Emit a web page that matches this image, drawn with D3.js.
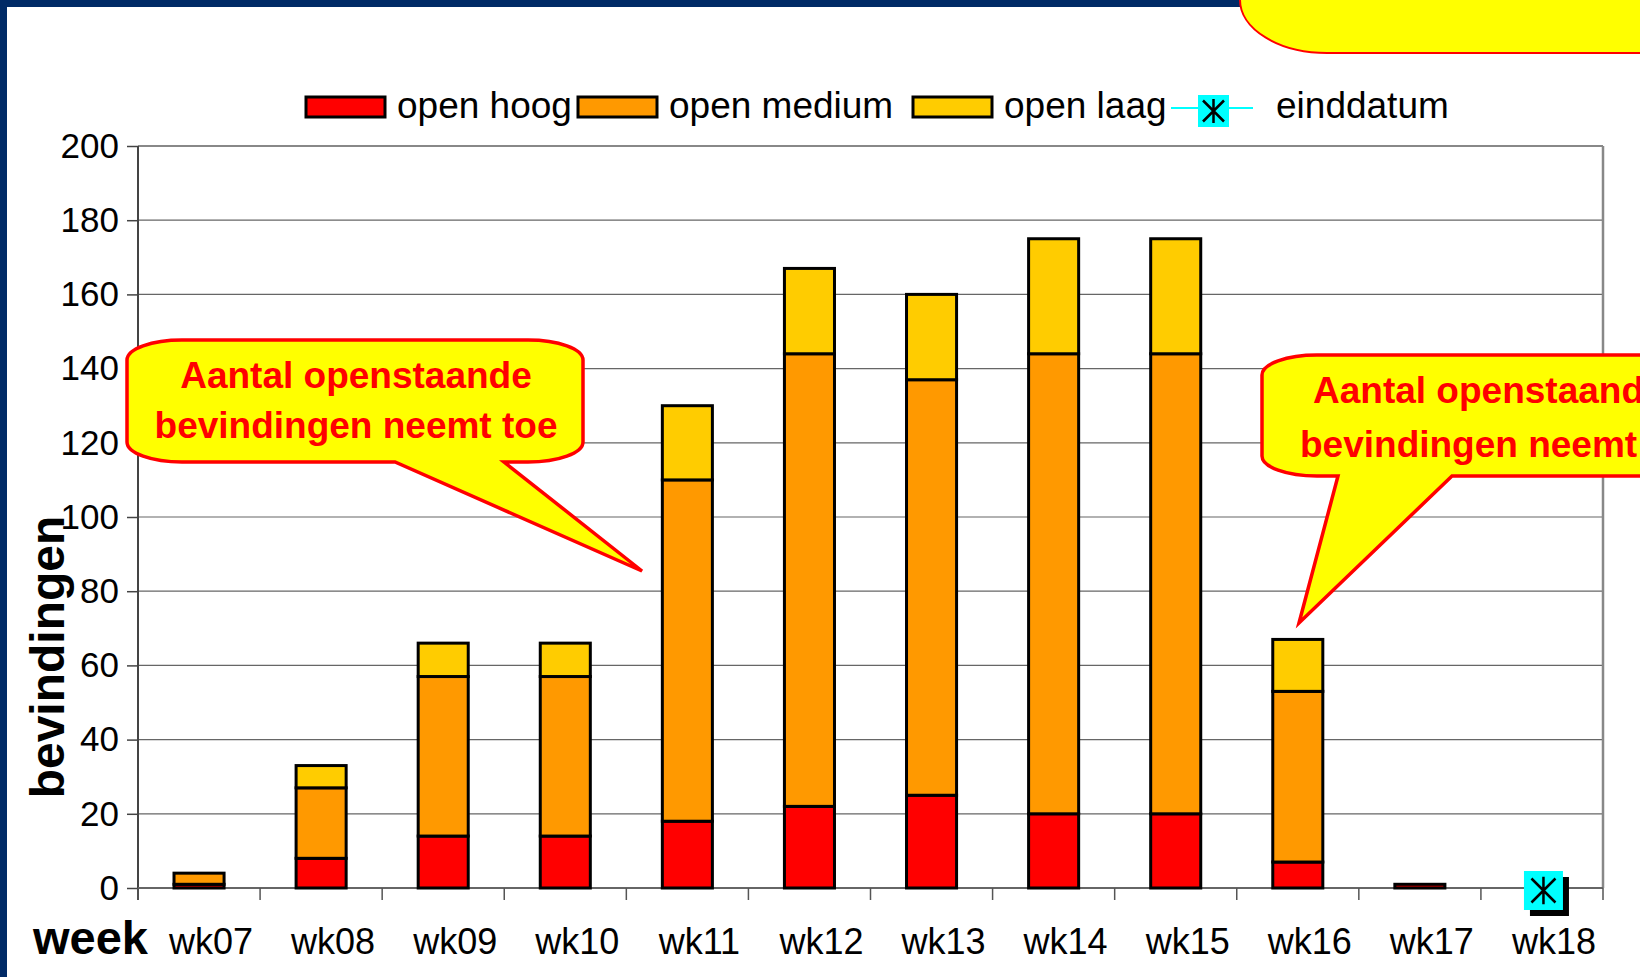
<!DOCTYPE html>
<html>
<head>
<meta charset="utf-8">
<script src="https://cdn.jsdelivr.net/npm/d3@7"></script>
<style>
  body { margin: 0; background: #fff; }
  svg { display: block; font-family: "Liberation Sans", Arial, sans-serif; }
</style>
</head>
<body>
<div id="chart"></div>
<script>
// data
const weeks = ["wk07", "wk08", "wk09", "wk10", "wk11", "wk12", "wk13", "wk14", "wk15", "wk16", "wk17", "wk18"];
const openHoog   = [1, 8, 14, 14, 18, 22, 25, 20, 20, 7, 1, 0];
const openMedium = [3, 19, 43, 43, 92, 122, 112, 124, 124, 46, 0, 0];
const openLaag   = [0, 6, 9, 9, 20, 23, 23, 31, 31, 14, 0, 0];
const einddatum  = [null, null, null, null, null, null, null, null, null, null, null, 0];
const yTicks = [0, 20, 40, 60, 80, 100, 120, 140, 160, 180, 200];
const seriesKeys = ["hoog", "medium", "laag"];
const seriesNames = ["open hoog", "open medium", "open laag", "einddatum"];
const seriesColors = ["#ff0000", "#ff9900", "#ffcc00", "#00ffff"];
const calloutText = ["Aantal openstaande", "bevindingen neemt toe"];

const width = 1640, height = 977;
const plot = { left: 138, right: 1603, top: 146, bottom: 888 };

const table = weeks.map((w, i) => ({ week: w, hoog: openHoog[i], medium: openMedium[i], laag: openLaag[i] }));
const stacked = d3.stack().keys(seriesKeys)(table);

const svg = d3.select("#chart").append("svg")
    .attr("width", width)
    .attr("height", height);

svg.append("rect").attr("width", width).attr("height", height).attr("fill", "#fff");

// slide frame
svg.append("rect").attr("x", 0).attr("y", 0).attr("width", 7).attr("height", height).attr("fill", "#002a66");
svg.append("rect").attr("x", 0).attr("y", 0).attr("width", 1260).attr("height", 7).attr("fill", "#002a66");
svg.append("path")
    .attr("d", "M1240,-4 L1240,0 A87,53 0 0 0 1327,53 L1645,53 L1645,-4 Z")
    .attr("fill", "#ffff00")
    .attr("stroke", "#ff0000")
    .attr("stroke-width", 2);

// scales
const x = d3.scaleBand().domain(weeks).range([plot.left, plot.right]);
const y = d3.scaleLinear().domain([0, 200]).range([plot.bottom, plot.top]);
const barW = x.bandwidth() * 0.41;

// grid
svg.append("g")
    .selectAll("line")
    .data(yTicks.filter(t => t > 0))
    .enter()
    .append("line")
    .attr("x1", plot.left).attr("x2", plot.right)
    .attr("y1", d => y(d)).attr("y2", d => y(d))
    .attr("stroke", d => d === 200 ? "#888" : "#666")
    .attr("stroke-width", d => d === 200 ? 2 : 1.2);

// right border
svg.append("line")
    .attr("x1", plot.right).attr("x2", plot.right)
    .attr("y1", plot.top).attr("y2", plot.bottom)
    .attr("stroke", "#888").attr("stroke-width", 2.5);

// y axis
const yAxis = svg.append("g")
    .attr("transform", `translate(${plot.left},0)`)
    .call(d3.axisLeft(y).tickValues(yTicks).tickSize(11).tickPadding(8));
yAxis.select(".domain").attr("stroke", "#444").attr("stroke-width", 2).attr("d", `M0,${plot.top}V${plot.bottom + 12}`);
yAxis.selectAll(".tick line").attr("stroke", "#444").attr("stroke-width", 1.5);
yAxis.selectAll(".tick text")
    .attr("fill", "#000")
    .style("font-size", "35px")
    .style("font-family", "'Liberation Sans', Arial, sans-serif");

// x axis
svg.append("line")
    .attr("x1", plot.left).attr("x2", plot.right)
    .attr("y1", plot.bottom).attr("y2", plot.bottom)
    .attr("stroke", "#666").attr("stroke-width", 2);

svg.append("g")
    .selectAll("line")
    .data(weeks.concat(["end"]))
    .enter()
    .append("line")
    .attr("x1", (d, i) => plot.left + i * x.step())
    .attr("x2", (d, i) => plot.left + i * x.step())
    .attr("y1", plot.bottom).attr("y2", plot.bottom + 12)
    .attr("stroke", "#555").attr("stroke-width", 1.5);

svg.append("g")
    .selectAll("text")
    .data(weeks)
    .enter()
    .append("text")
    .text(d => d)
    .attr("x", d => x(d) + x.bandwidth() / 2 + 12)
    .attr("y", 954)
    .attr("text-anchor", "middle")
    .style("font-size", "36px");

svg.append("text")
    .text("week")
    .attr("x", 33).attr("y", 954)
    .style("font-size", "47px")
    .style("font-weight", "bold");

svg.append("text")
    .text("bevindingen")
    .attr("transform", "translate(64,657) rotate(-90)")
    .attr("text-anchor", "middle")
    .style("font-size", "48px")
    .style("font-weight", "bold");

// stacked bars
svg.append("g")
    .selectAll("g")
    .data(stacked)
    .enter()
    .append("g")
    .attr("fill", (d, i) => seriesColors[i])
    .selectAll("rect")
    .data(d => d.filter(p => p[1] - p[0] > 0))
    .enter()
    .append("rect")
    .attr("x", d => x(d.data.week) + (x.bandwidth() - barW) / 2)
    .attr("y", d => y(d[1]))
    .attr("width", barW)
    .attr("height", d => y(d[0]) - y(d[1]))
    .attr("stroke", "#000")
    .attr("stroke-width", 3);

// einddatum marker
function asterisk(g, cx, cy, s) {
    g.append("path")
        .attr("d", `M${cx - s},${cy - s}L${cx + s},${cy + s}M${cx + s},${cy - s}L${cx - s},${cy + s}M${cx},${cy - s * 1.15}V${cy + s * 1.15}`)
        .attr("stroke", "#000").attr("stroke-width", 2.5).attr("fill", "none");
}

const endPoints = weeks.map((w, i) => ({ week: w, v: einddatum[i] })).filter(d => d.v !== null);
svg.append("path")
    .datum(endPoints)
    .attr("d", d3.line().x(d => x(d.week) + x.bandwidth() / 2).y(d => y(d.v)))
    .attr("stroke", "#00ffff").attr("stroke-width", 2).attr("fill", "none");
endPoints.forEach(d => {
    const cx = x(d.week) + x.bandwidth() / 2 + 1, cy = y(d.v) + 2;
    svg.append("rect").attr("x", cx - 19 + 6).attr("y", cy - 19 + 6).attr("width", 39).attr("height", 39).attr("fill", "#000");
    svg.append("rect").attr("x", cx - 19).attr("y", cy - 19).attr("width", 39).attr("height", 39).attr("fill", "#00ffff");
    asterisk(svg, cx + 0.5, cy + 0.5, 12);
});

// legend
const legendX = [306, 578, 913, 1171];
const legend = svg.append("g");
seriesNames.forEach((name, i) => {
    if (i < 3) {
        legend.append("rect")
            .attr("x", legendX[i]).attr("y", 97)
            .attr("width", 79).attr("height", 20)
            .attr("fill", seriesColors[i])
            .attr("stroke", "#000").attr("stroke-width", 3);
        legend.append("text")
            .text(name)
            .attr("x", legendX[i] + 91).attr("y", 118)
            .style("font-size", "37px");
    } else {
        legend.append("line")
            .attr("x1", legendX[i]).attr("x2", legendX[i] + 82)
            .attr("y1", 108).attr("y2", 108)
            .attr("stroke", seriesColors[i]).attr("stroke-width", 2);
        legend.append("rect")
            .attr("x", legendX[i] + 27).attr("y", 95)
            .attr("width", 31).attr("height", 32)
            .attr("fill", seriesColors[i]);
        asterisk(legend, legendX[i] + 42.5, 111, 10.5);
        legend.append("text")
            .text(name)
            .attr("x", 1276).attr("y", 118)
            .style("font-size", "37px");
    }
});

// callouts
function callout(x0, y0, x1, y1, rx, ry, bl, br, tx, ty) {
    return `M${x0 + rx},${y0} L${x1 - rx},${y0} A${rx},${ry} 0 0 1 ${x1},${y0 + ry}` +
        ` L${x1},${y1 - ry} A${rx},${ry} 0 0 1 ${x1 - rx},${y1}` +
        ` L${br},${y1} L${tx},${ty} L${bl},${y1}` +
        ` L${x0 + rx},${y1} A${rx},${ry} 0 0 1 ${x0},${y1 - ry}` +
        ` L${x0},${y0 + ry} A${rx},${ry} 0 0 1 ${x0 + rx},${y0} Z`;
}

svg.append("path")
    .attr("d", callout(127, 340, 583, 462, 55, 20, 395, 504, 642, 571))
    .attr("fill", "#ffff00").attr("stroke", "#ff0000").attr("stroke-width", 3.5).attr("stroke-linejoin", "miter");
svg.append("g")
    .selectAll("text")
    .data(calloutText)
    .enter()
    .append("text")
    .text(d => d)
    .attr("x", 356)
    .attr("y", (d, i) => 388 + i * 50)
    .attr("text-anchor", "middle")
    .attr("fill", "#ff0000")
    .style("font-size", "37px")
    .style("font-weight", "bold");

// second callout runs off the right edge of the slide, as in the original
svg.append("path")
    .attr("d", callout(1262, 355, 1760, 476, 55, 20, 1338, 1452, 1299, 623))
    .attr("fill", "#ffff00").attr("stroke", "#ff0000").attr("stroke-width", 3.5).attr("stroke-linejoin", "miter");
svg.append("g")
    .selectAll("text")
    .data(calloutText)
    .enter()
    .append("text")
    .text(d => d)
    .attr("x", (d, i) => i === 0 ? 1313 : 1300)
    .attr("y", (d, i) => 403 + i * 54)
    .attr("fill", "#ff0000")
    .style("font-size", "37px")
    .style("font-weight", "bold");
</script>
</body>
</html>
